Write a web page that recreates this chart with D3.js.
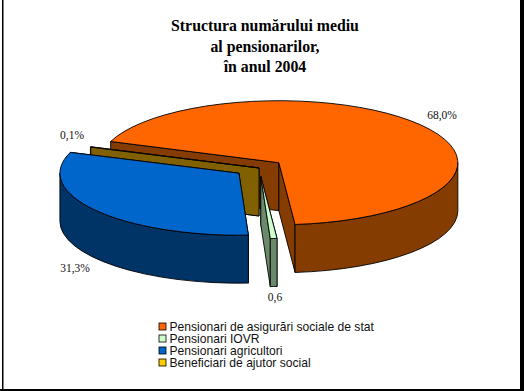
<!DOCTYPE html>
<html>
<head>
<meta charset="utf-8">
<script src="https://cdn.jsdelivr.net/npm/d3@7"></script>
<style>
  html, body { margin: 0; padding: 0; background: #fff; }
  svg { display: block; }
</style>
</head>
<body>
<svg id="chart" width="524" height="391"></svg>
<script>
const categories = ['Pensionari de asigurări sociale de stat', 'Pensionari IOVR', 'Pensionari agricultori', 'Beneficiari de ajutor social'];
const values = [68.0, 0.6, 31.3, 0.1];
const valueLabels = ['68,0%', '0,6', '31,3%', '0,1%'];
const titleLines = ['Structura numărului mediu', 'al pensionarilor,', 'în anul 2004'];
const topColors = ['#ff6600', '#ccffcc', '#0066cc', '#ffcc00'];
const sideColors = ['#843c00', '#6b8a6b', '#003366', '#806000'];

const width = 524, height = 391;
const cx = 259, cy = 168, rx = 179, ry = 62, depth = 48;
const explode = [0.14, 0.14, 0.14, 0];
const deg = Math.PI / 180;
const stroke = '#000';

const svg = d3.select('#chart');

// frame
svg.append('rect').attr('x', 520).attr('y', 0).attr('width', 4).attr('height', 391).attr('fill', '#000');
svg.append('rect').attr('x', 0).attr('y', 389).attr('width', 524).attr('height', 2).attr('fill', '#000');
svg.append('rect').attr('x', 2).attr('y', 0).attr('width', 1.5).attr('height', 391).attr('fill', '#000');

svg.append('g')
  .selectAll('text')
  .data(titleLines)
  .join('text')
  .attr('x', 265)
  .attr('y', (d, i) => 31 + i * 20.5)
  .attr('text-anchor', 'middle')
  .attr('font-family', '"Liberation Serif"')
  .attr('font-weight', 'bold')
  .attr('font-size', 15.8)
  .text(d => d);

const pie = d3.pie().sort(null).startAngle(-70 * deg).endAngle(290 * deg);
const slices = pie(values).map((d, i) => {
  const mid = (d.startAngle + d.endAngle) / 2;
  return {
    ...d,
    i,
    x: cx + explode[i] * rx * Math.sin(mid),
    y: cy - explode[i] * ry * Math.cos(mid),
  };
});

const px = (s, a) => s.x + rx * Math.sin(a);
const py = (s, a) => s.y - ry * Math.cos(a);

function topPath(s) {
  const large = s.endAngle - s.startAngle > Math.PI ? 1 : 0;
  return `M${s.x},${s.y}L${px(s, s.startAngle)},${py(s, s.startAngle)}` +
    `A${rx},${ry} 0 ${large} 1 ${px(s, s.endAngle)},${py(s, s.endAngle)}Z`;
}

function radialWall(s, a) {
  return `M${s.x},${s.y}L${px(s, a)},${py(s, a)}L${px(s, a)},${py(s, a) + depth}L${s.x},${s.y + depth}Z`;
}

// outer rim only shows where the ellipse faces the viewer: 90 to 270 degrees
function rimPath(s) {
  const segs = [[s.startAngle, s.endAngle], [s.startAngle + 2 * Math.PI, s.endAngle + 2 * Math.PI]];
  let out = '';
  segs.forEach(([a0, b0]) => {
    const a = Math.max(a0, 90 * deg), b = Math.min(b0, 270 * deg);
    if (b <= a) return;
    out += `M${px(s, a)},${py(s, a)}A${rx},${ry} 0 0 1 ${px(s, b)},${py(s, b)}` +
      `L${px(s, b)},${py(s, b) + depth}A${rx},${ry} 0 0 0 ${px(s, a)},${py(s, a) + depth}Z`;
  });
  return out;
}

// back to front: orange, yellow, green, blue
const drawOrder = [0, 3, 1, 2];
const pieLayer = svg.append('g')
  .attr('stroke', stroke)
  .attr('stroke-width', 0.9)
  .attr('stroke-linejoin', 'round');

drawOrder.forEach(i => {
  const s = slices[i];
  const g = pieLayer.append('g');
  g.append('path').attr('d', radialWall(s, s.startAngle)).attr('fill', sideColors[i]);
  g.append('path').attr('d', radialWall(s, s.endAngle)).attr('fill', sideColors[i]);
  g.append('path').attr('d', rimPath(s)).attr('fill', sideColors[i]);
  g.append('path').attr('d', topPath(s)).attr('fill', topColors[i]);
});

const labelPos = [[442, 119], [275, 301], [75, 272], [72, 139]];
svg.append('g')
  .selectAll('text')
  .data(valueLabels)
  .join('text')
  .attr('x', (d, i) => labelPos[i][0])
  .attr('y', (d, i) => labelPos[i][1])
  .attr('text-anchor', 'middle')
  .attr('font-family', '"Liberation Serif"')
  .attr('font-size', 11.5)
  .attr('fill', '#111')
  .text(d => d);

const legendY = d3.scalePoint().domain(categories).range([327, 363]);
const legend = svg.append('g')
  .selectAll('g')
  .data(categories)
  .join('g')
  .attr('transform', d => `translate(159,${legendY(d)})`);

legend.append('rect')
  .attr('x', 0)
  .attr('y', -4)
  .attr('width', 7)
  .attr('height', 7)
  .attr('fill', (d, i) => topColors[i])
  .attr('stroke', '#000')
  .attr('stroke-width', 0.8);

legend.append('text')
  .attr('x', 10.5)
  .attr('y', 4)
  .attr('font-family', '"Liberation Sans"')
  .attr('font-size', 12.1)
  .attr('fill', '#111')
  .text(d => d);
</script>
</body>
</html>
